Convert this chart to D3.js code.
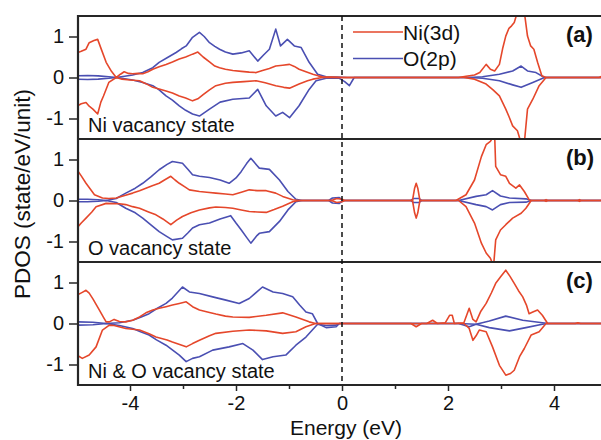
<!DOCTYPE html>
<html>
<head>
<meta charset="utf-8">
<script src="https://cdn.jsdelivr.net/npm/d3@7"></script>
<style>
  body { margin: 0; background: #fff; }
  svg { display: block; font-family: "Liberation Sans", Arial, sans-serif; }
</style>
</head>
<body>
<svg id="chart" width="601" height="440"></svg>
<script>
// PDOS panels: [energy (eV), states]
var energyTicks = [-4, -2, 0, 2, 4];
var energyMinor = [-3, -1, 1, 3];
var pdosTicks = [-1, 0, 1];
var panelTags = ["(a)", "(b)", "(c)"];
var panelNames = ["Ni vacancy state", "O vacancy state", "Ni & O vacancy state"];
var legendNames = ["Ni(3d)", "O(2p)"];

// (a) Ni vacancy
var aNiUp = [[-5,0.6],[-4.92,0.64],[-4.83,0.69],[-4.77,0.85],[-4.68,0.9],[-4.61,0.93],[-4.53,0.65],[-4.45,0.37],[-4.35,0.15],[-4.26,0],[-4.18,0.08],[-4.11,0.14],[-4.03,0.1],[-3.95,0.09],[-3.85,0.1],[-3.76,0.09],[-3.66,0.14],[-3.57,0.2],[-3.45,0.26],[-3.32,0.32],[-3.2,0.38],[-3.07,0.45],[-2.95,0.5],[-2.82,0.57],[-2.72,0.62],[-2.62,0.5],[-2.5,0.38],[-2.4,0.28],[-2.31,0.24],[-2.2,0.2],[-2.06,0.17],[-1.9,0.15],[-1.75,0.13],[-1.62,0.12],[-1.5,0.17],[-1.37,0.22],[-1.25,0.28],[-1.12,0.3],[-0.99,0.32],[-0.9,0.27],[-0.81,0.2],[-0.68,0.14],[-0.55,0.08],[-0.45,0.04],[-0.37,0.02],[-0.2,0.01],[0,0],[2.2,0],[2.34,0.03],[2.5,0.06],[2.6,0.12],[2.72,0.32],[2.8,0.2],[2.88,0.16],[2.97,0.32],[3.03,0.7],[3.09,1.01],[3.15,1.2],[3.2,1.26],[3.25,1.34],[3.31,1.6],[3.44,1.6],[3.5,1.01],[3.56,0.77],[3.62,0.69],[3.69,0.37],[3.77,0.04],[3.85,0],[4.85,0],[4.9,0.03],[4.95,0],[5.2,0]];
var aNiDn = [[-5,-0.7],[-4.92,-0.64],[-4.83,-0.61],[-4.77,-0.7],[-4.7,-0.77],[-4.61,-0.89],[-4.55,-0.6],[-4.5,-0.45],[-4.4,-0.12],[-4.26,0],[-4.15,-0.04],[-4.0,-0.06],[-3.82,-0.08],[-3.7,-0.15],[-3.57,-0.24],[-3.45,-0.28],[-3.32,-0.33],[-3.2,-0.38],[-3.07,-0.45],[-2.95,-0.5],[-2.82,-0.57],[-2.72,-0.52],[-2.62,-0.42],[-2.5,-0.3],[-2.38,-0.2],[-2.2,-0.14],[-2.06,-0.12],[-1.85,-0.1],[-1.62,-0.08],[-1.45,-0.13],[-1.25,-0.2],[-1.1,-0.24],[-0.99,-0.26],[-0.81,-0.16],[-0.65,-0.08],[-0.55,-0.04],[-0.37,0],[0,0],[2.3,0],[2.5,-0.04],[2.72,-0.16],[2.85,-0.3],[2.97,-0.45],[3.09,-0.77],[3.15,-0.95],[3.22,-1.18],[3.31,-1.3],[3.38,-1.6],[3.44,-1.6],[3.5,-0.77],[3.6,-0.53],[3.72,-0.2],[3.85,0],[5.2,0]];
var aOUp = [[-5,0.04],[-4.8,0.05],[-4.6,0.04],[-4.4,0.02],[-4.26,0],[-4.1,0.03],[-3.95,0.06],[-3.76,0.12],[-3.57,0.24],[-3.45,0.37],[-3.3,0.48],[-3.13,0.61],[-3.03,0.7],[-2.94,0.77],[-2.82,0.98],[-2.69,1.1],[-2.6,1.0],[-2.5,0.85],[-2.4,0.76],[-2.31,0.69],[-2.2,0.62],[-2.06,0.57],[-1.9,0.6],[-1.75,0.65],[-1.59,0.4],[-1.48,0.55],[-1.37,0.69],[-1.25,1.18],[-1.16,0.77],[-1.03,0.93],[-0.9,0.77],[-0.77,0.73],[-0.62,0.37],[-0.46,0.08],[-0.3,0.02],[-0.1,0.01],[0.1,0],[2.4,0],[2.65,0.02],[2.97,0.08],[3.22,0.16],[3.38,0.28],[3.5,0.16],[3.66,0.12],[3.82,0],[5.2,0]];
var aODn = [[-5,-0.04],[-4.8,-0.05],[-4.6,-0.04],[-4.4,-0.02],[-4.26,0],[-4.1,-0.03],[-3.95,-0.06],[-3.76,-0.12],[-3.57,-0.2],[-3.45,-0.3],[-3.32,-0.45],[-3.2,-0.55],[-3.07,-0.69],[-2.95,-0.8],[-2.82,-0.89],[-2.69,-0.94],[-2.5,-0.77],[-2.3,-0.6],[-2.06,-0.53],[-1.75,-0.5],[-1.59,-0.29],[-1.43,-0.69],[-1.25,-0.94],[-1.12,-0.85],[-0.99,-0.98],[-0.81,-0.69],[-0.62,-0.29],[-0.49,-0.08],[-0.3,-0.02],[-0.05,-0.02],[0.05,-0.1],[0.14,-0.2],[0.23,0],[2.4,0],[2.65,-0.02],[2.97,-0.08],[3.22,-0.18],[3.38,-0.24],[3.6,-0.12],[3.82,0],[5.2,0]];

// (b) O vacancy
var bNiUp = [[-5,0.75],[-4.92,0.6],[-4.83,0.42],[-4.75,0.28],[-4.67,0.14],[-4.52,0.06],[-4.4,0.05],[-4.26,0.06],[-4.1,0.12],[-3.95,0.18],[-3.82,0.24],[-3.7,0.3],[-3.58,0.36],[-3.45,0.42],[-3.35,0.5],[-3.23,0.59],[-3.15,0.5],[-3.07,0.42],[-2.95,0.32],[-2.88,0.26],[-2.69,0.22],[-2.55,0.2],[-2.38,0.18],[-2.2,0.16],[-2.06,0.14],[-1.9,0.2],[-1.75,0.26],[-1.6,0.24],[-1.43,0.24],[-1.25,0.18],[-1.12,0.1],[-0.93,0.02],[-0.81,0],[-0.2,0],[-0.1,0.05],[0,0.03],[0.05,0],[1.33,0],[1.37,0.3],[1.4,0.42],[1.43,0.3],[1.47,0],[2.15,0],[2.34,0.14],[2.5,0.5],[2.63,1.07],[2.72,1.36],[2.8,1.44],[2.85,1.55],[2.88,1.6],[2.9,0.83],[2.99,0.63],[3.09,0.59],[3.16,0.42],[3.28,0.3],[3.35,0.38],[3.44,0.22],[3.53,0.02],[3.57,0],[3.82,0],[3.85,0.02],[3.88,0],[4.45,0],[4.48,0.02],[4.51,0],[5.2,0]];
var bNiDn = [[-5,-0.67],[-4.92,-0.55],[-4.83,-0.43],[-4.72,-0.28],[-4.64,-0.15],[-4.45,-0.07],[-4.2,-0.08],[-4.08,-0.1],[-3.95,-0.15],[-3.82,-0.19],[-3.65,-0.28],[-3.51,-0.35],[-3.38,-0.45],[-3.23,-0.59],[-3.12,-0.48],[-3.01,-0.39],[-2.85,-0.3],[-2.69,-0.23],[-2.5,-0.18],[-2.38,-0.16],[-2.2,-0.17],[-2.06,-0.19],[-1.9,-0.23],[-1.75,-0.27],[-1.6,-0.28],[-1.43,-0.29],[-1.28,-0.22],[-1.12,-0.14],[-0.93,-0.03],[-0.81,0],[-0.2,0],[-0.1,-0.05],[0,-0.03],[0.05,0],[1.33,0],[1.37,-0.3],[1.4,-0.43],[1.43,-0.3],[1.47,0],[2.2,0],[2.34,-0.15],[2.5,-0.55],[2.63,-1.04],[2.72,-1.28],[2.8,-1.41],[2.86,-1.6],[2.9,-0.96],[2.99,-0.72],[3.09,-0.59],[3.22,-0.43],[3.38,-0.31],[3.47,-0.19],[3.57,0],[3.82,0],[3.85,-0.02],[3.88,0],[4.45,0],[4.48,-0.02],[4.51,0],[5.2,0]];
var bOUp = [[-5,0.03],[-4.8,0.03],[-4.6,0.02],[-4.45,0],[-4.26,0.05],[-4.08,0.18],[-3.9,0.3],[-3.76,0.42],[-3.6,0.58],[-3.45,0.75],[-3.3,0.88],[-3.2,0.95],[-3.01,0.91],[-2.9,0.75],[-2.82,0.63],[-2.69,0.59],[-2.5,0.56],[-2.3,0.5],[-2.13,0.42],[-2.0,0.55],[-1.9,0.71],[-1.8,0.9],[-1.72,1.03],[-1.6,0.85],[-1.56,0.79],[-1.37,0.76],[-1.18,0.5],[-1.02,0.22],[-0.87,0.03],[-0.75,0],[-0.25,0],[-0.18,0.06],[-0.05,0.07],[0.02,0],[1.3,0],[1.35,0.05],[1.45,0.05],[1.5,0],[2.2,0],[2.53,0.1],[2.72,0.14],[2.84,0.24],[2.99,0.11],[3.16,0.06],[3.47,0.04],[3.57,0],[5.2,0]];
var bODn = [[-5,-0.03],[-4.8,-0.03],[-4.6,-0.02],[-4.45,0],[-4.26,-0.05],[-4.08,-0.19],[-3.9,-0.3],[-3.76,-0.43],[-3.6,-0.6],[-3.45,-0.76],[-3.3,-0.88],[-3.2,-0.96],[-3.01,-0.92],[-2.9,-0.78],[-2.82,-0.67],[-2.69,-0.59],[-2.5,-0.55],[-2.3,-0.45],[-2.1,-0.37],[-2.0,-0.55],[-1.9,-0.72],[-1.8,-0.9],[-1.72,-1.04],[-1.6,-0.85],[-1.56,-0.8],[-1.37,-0.76],[-1.18,-0.51],[-1.02,-0.23],[-0.87,-0.03],[-0.75,0],[-0.25,0],[-0.18,-0.06],[-0.05,-0.07],[0.02,0],[1.3,0],[1.35,-0.05],[1.45,-0.05],[1.5,0],[2.2,0],[2.53,-0.1],[2.72,-0.15],[2.84,-0.23],[2.99,-0.1],[3.16,-0.05],[3.47,-0.04],[3.57,0],[5.2,0]];

// (c) Ni & O vacancy
var cNiUp = [[-5,0.69],[-4.9,0.76],[-4.83,0.81],[-4.77,0.74],[-4.7,0.6],[-4.58,0.33],[-4.5,0.15],[-4.45,0.04],[-4.39,0.04],[-4.3,0.1],[-4.2,0.05],[-4.08,0.04],[-3.95,0.08],[-3.82,0.16],[-3.7,0.26],[-3.57,0.33],[-3.45,0.37],[-3.32,0.41],[-3.2,0.45],[-3.07,0.49],[-2.94,0.53],[-2.82,0.41],[-2.69,0.33],[-2.5,0.27],[-2.38,0.23],[-2.2,0.18],[-2.06,0.16],[-1.75,0.15],[-1.43,0.2],[-1.12,0.26],[-0.87,0.16],[-0.62,0.04],[-0.5,0],[1.6,0],[1.71,0.08],[1.8,0],[1.95,0.02],[2.03,0.2],[2.08,0.2],[2.12,0],[2.3,0.02],[2.4,0.37],[2.47,0.1],[2.53,0.04],[2.62,0.3],[2.72,0.49],[2.82,0.75],[2.9,0.98],[3.0,1.15],[3.09,1.3],[3.17,1.15],[3.25,0.98],[3.33,0.8],[3.41,0.65],[3.48,0.45],[3.53,0.24],[3.6,0.28],[3.69,0.33],[3.78,0.2],[3.88,0],[4.4,0],[4.45,0.02],[4.5,0],[5.2,0]];
var cNiDn = [[-5,-0.77],[-4.9,-0.85],[-4.77,-0.77],[-4.64,-0.57],[-4.52,-0.16],[-4.39,-0.04],[-4.3,-0.05],[-4.08,-0.12],[-3.82,-0.16],[-3.64,-0.25],[-3.51,-0.33],[-3.3,-0.4],[-3.2,-0.45],[-2.94,-0.57],[-2.82,-0.49],[-2.69,-0.41],[-2.5,-0.3],[-2.38,-0.24],[-2.06,-0.19],[-1.75,-0.16],[-1.43,-0.18],[-1.12,-0.24],[-0.87,-0.2],[-0.68,-0.08],[-0.5,0],[1.3,0],[1.4,-0.08],[1.5,0],[2.3,0],[2.4,-0.12],[2.47,-0.41],[2.53,-0.3],[2.59,-0.16],[2.72,-0.2],[2.84,-0.57],[2.97,-1.02],[3.09,-1.26],[3.18,-1.22],[3.25,-1.14],[3.35,-0.81],[3.44,-0.61],[3.57,-0.28],[3.72,-0.2],[3.85,0],[5.2,0]];
var cOUp = [[-5,0.04],[-4.7,0.03],[-4.45,0],[-4.2,0.02],[-3.95,0.08],[-3.8,0.15],[-3.64,0.24],[-3.5,0.36],[-3.32,0.49],[-3.2,0.62],[-3.01,0.89],[-2.88,0.77],[-2.69,0.73],[-2.44,0.65],[-2.19,0.57],[-1.94,0.49],[-1.75,0.61],[-1.5,0.89],[-1.3,0.77],[-1.12,0.73],[-0.93,0.65],[-0.8,0.45],[-0.68,0.28],[-0.56,0.24],[-0.46,0],[-0.3,-0.1],[-0.11,-0.08],[-0.05,0],[2.2,0],[2.53,-0.02],[2.78,0.06],[3.09,0.18],[3.41,0.08],[3.78,0.02],[3.9,0],[5.2,0]];
var cODn = [[-5,-0.04],[-4.7,-0.03],[-4.45,0],[-4.2,-0.05],[-3.95,-0.12],[-3.8,-0.2],[-3.64,-0.28],[-3.5,-0.4],[-3.32,-0.53],[-3.07,-0.77],[-2.94,-0.93],[-2.82,-0.85],[-2.69,-0.81],[-2.44,-0.65],[-2.13,-0.57],[-1.87,-0.49],[-1.68,-0.65],[-1.5,-0.88],[-1.3,-0.81],[-1.06,-0.77],[-0.87,-0.53],[-0.68,-0.33],[-0.56,-0.16],[-0.46,-0.02],[-0.3,-0.05],[-0.11,-0.04],[-0.05,0],[2.2,0],[2.4,-0.08],[2.53,-0.02],[2.78,-0.1],[3.16,-0.18],[3.47,-0.1],[3.78,-0.02],[3.9,0],[5.2,0]];

var panels = [
    { ni: [aNiUp, aNiDn], o: [aOUp, aODn] },
    { ni: [bNiUp, bNiDn], o: [bOUp, bODn] },
    { ni: [cNiUp, cNiDn], o: [cOUp, cODn] }
];

var red = "#e5472b", blue = "#4a4fb2", frame = "#262626";
// note: "top" is taken by window.top, so plotTop
var plotLeft = 78, plotTop = 16, panelH = 123;

var svg = d3.select("#chart");

// plot runs past the right edge of the picture (x = 5 is cut off)
var x = d3.scaleLinear().domain([-5, 5]).range([plotLeft - 1, 607]);

var line = d3.line()
    .x(function(d) { return x(d[0]); });

panels.forEach(function(p, i) {
    var y0 = plotTop + i * panelH;
    var y = d3.scaleLinear().domain([-1.5, 1.5]).range([y0 + panelH, y0]);
    line.y(function(d) { return y(d[1]); });

    svg.append("clipPath").attr("id", "clip" + i)
      .append("rect")
        .attr("x", plotLeft).attr("y", y0)
        .attr("width", 601 - plotLeft).attr("height", panelH);

    var g = svg.append("g").attr("clip-path", "url(#clip" + i + ")");
    p.o.forEach(function(s) {
        g.append("path").attr("d", line(s))
            .attr("fill", "none").attr("stroke", blue).attr("stroke-width", 1.6)
            .attr("stroke-linejoin", "round");
    });
    p.ni.forEach(function(s) {
        g.append("path").attr("d", line(s))
            .attr("fill", "none").attr("stroke", red).attr("stroke-width", 1.6)
            .attr("stroke-linejoin", "round");
    });

    var yAxis = svg.append("g")
        .attr("transform", "translate(" + plotLeft + ",0)")
        .call(d3.axisLeft(y).tickValues(pdosTicks).tickSize(9).tickPadding(5)
            .tickFormat(function(d) { return String(d); }));
    yAxis.select(".domain").remove();
    yAxis.selectAll("line").attr("stroke", frame).attr("stroke-width", 1.5);
    yAxis.selectAll("text").attr("font-size", 20).attr("fill", "#111")
        .attr("font-family", "Liberation Sans, Arial, sans-serif");

    // horizontal frame line above each panel
    svg.append("line")
        .attr("x1", plotLeft).attr("x2", 601)
        .attr("y1", y0).attr("y2", y0)
        .attr("stroke", frame).attr("stroke-width", 2.2);

    svg.append("text")
        .attr("x", 88).attr("y", y0 + panelH - 7)
        .attr("font-size", 20).attr("fill", "#111")
        .text(panelNames[i]);

    svg.append("text")
        .attr("x", 566).attr("y", y0 + 25.5)
        .attr("font-size", 22).attr("font-weight", "bold").attr("fill", "#111")
        .text(panelTags[i]);
});

var bottom = plotTop + 3 * panelH;

// dashed Fermi level
svg.append("line")
    .attr("x1", x(0)).attr("x2", x(0))
    .attr("y1", plotTop).attr("y2", bottom)
    .attr("stroke", "#111").attr("stroke-width", 1.5)
    .attr("stroke-dasharray", "5,4");

// left spine
svg.append("line")
    .attr("x1", plotLeft).attr("x2", plotLeft)
    .attr("y1", plotTop - 1).attr("y2", bottom + 1)
    .attr("stroke", frame).attr("stroke-width", 2.2);

var xAxis = svg.append("g")
    .attr("transform", "translate(0," + bottom + ")")
    .call(d3.axisBottom(x).tickValues(energyTicks).tickSize(6).tickPadding(5)
        .tickFormat(function(d) { return String(d); }));
xAxis.select(".domain").remove();
xAxis.selectAll("line").attr("stroke", frame).attr("stroke-width", 1.5);
xAxis.selectAll("text").attr("font-size", 20).attr("fill", "#111")
    .attr("font-family", "Liberation Sans, Arial, sans-serif");

var xMinor = svg.append("g")
    .attr("transform", "translate(0," + bottom + ")")
    .call(d3.axisBottom(x).tickValues(energyMinor).tickSize(4).tickFormat(""));
xMinor.select(".domain").remove();
xMinor.selectAll("line").attr("stroke", frame).attr("stroke-width", 1.5);

svg.append("line")
    .attr("x1", plotLeft).attr("x2", 601)
    .attr("y1", bottom).attr("y2", bottom)
    .attr("stroke", frame).attr("stroke-width", 2.2);

// legend
var legend = svg.append("g");
[red, blue].forEach(function(c, k) {
    var ly = 32 + k * 26.5;
    legend.append("line")
        .attr("x1", 353).attr("x2", 403)
        .attr("y1", ly).attr("y2", ly)
        .attr("stroke", c).attr("stroke-width", 1.6);
    legend.append("text")
        .attr("x", 403).attr("y", ly + 7.5)
        .attr("font-size", 21).attr("fill", "#111")
        .text(legendNames[k]);
});

svg.append("text")
    .attr("x", 346).attr("y", 434.5)
    .attr("text-anchor", "middle")
    .attr("font-size", 21).attr("fill", "#111")
    .text("Energy (eV)");

svg.append("text")
    .attr("transform", "translate(30,194) rotate(-90)")
    .attr("text-anchor", "middle")
    .attr("font-size", 22.5).attr("fill", "#111")
    .text("PDOS (state/eV/unit)");
</script>
</body>
</html>
